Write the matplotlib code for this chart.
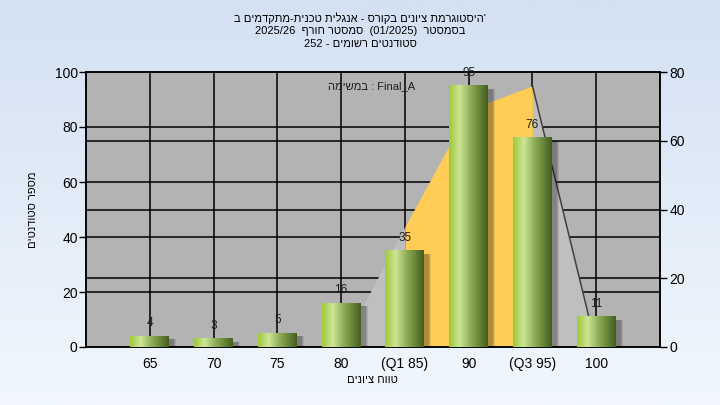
import re
import numpy as np
import matplotlib
matplotlib.use('Agg')
import matplotlib.pyplot as plt
from matplotlib.colors import LinearSegmentedColormap
from matplotlib.patches import Rectangle

plt.rcParams['font.family'] = ['Liberation Sans', 'DejaVu Sans']

# data
categories = ['65', '70', '75', '80', '(Q1 85)', '90', '(Q3 95)', '100']
counts = [4, 3, 5, 16, 35, 95, 76, 11]
# distribution shape drawn behind the bars (right axis), from category 80 to 100
area_pos = [3, 4, 5, 6, 7]
area_vals = [0, 35, 69, 76, 0]
q1_pos, q3_pos = 4, 6
left_ticks = [0, 20, 40, 60, 80, 100]
right_ticks = [0, 20, 40, 60, 80]

title_1 = 'היסטוגרמת ציונים בקורס - אנגלית טכנית-מתקדמים ב'
title_2 = 'בסמסטר  (01/2025)  סמסטר חורף  2025/26'
title_3 = 'סטודנטים רשומים - 252'
note = 'Final_A : במשימה'
xlab = 'טווח ציונים'
ylab = 'מספר סטודנטים'


def vis(s):
    # crude bidi: right-to-left display, latin/digit runs kept in order
    parts = re.split(r'([A-Za-z0-9_/().]+)', s)
    out = []
    for p in reversed(parts):
        if re.fullmatch(r'[A-Za-z0-9_/().]+', p):
            out.append(p)
        else:
            out.append(p[::-1])
    return ''.join(out)


fig = plt.figure(figsize=(7.2, 4.05), dpi=100)

# background gradient
bg = fig.add_axes([0, 0, 1, 1], zorder=-10)
grad = np.linspace(0, 1, 256).reshape(-1, 1)
bg_cmap = LinearSegmentedColormap.from_list('bg', ['#d3e1f3', '#f1f7fd'])
bg.imshow(grad, aspect='auto', cmap=bg_cmap, extent=(0, 1, 0, 1))
bg.axis('off')

rect = [86 / 720, 1 - 347 / 405, 574 / 720, 275 / 405]
ax2 = fig.add_axes(rect)
ax = ax2.twinx()
ax.yaxis.set_label_position('left')
ax.yaxis.tick_left()
ax2.yaxis.tick_right()
ax2.set_zorder(1)
ax.set_zorder(2)
ax.patch.set_visible(False)
ax2.set_facecolor('#b3b3b3')

x = np.arange(len(categories))
ax.set_xlim(-1, len(categories))
ax.set_ylim(0, 100)
ax2.set_ylim(0, 80)

# grid lines (behind the shaded distribution)
ax2.hlines(left_ticks[1:-1], 0, 1, transform=ax.get_yaxis_transform(), color='black', lw=1.1, zorder=1)
ax2.hlines(right_ticks[1:-1], 0, 1, transform=ax2.get_yaxis_transform(), color='black', lw=1.1, zorder=1)
ax2.vlines(x, 0, 1, transform=ax2.get_xaxis_transform(), color='black', lw=1.1, zorder=1)

# shaded distribution: grey outside Q1..Q3, yellow inside
ap = np.array(area_pos)
av = np.array(area_vals)
lo = ap <= q1_pos
mid = (ap >= q1_pos) & (ap <= q3_pos)
hi = ap >= q3_pos
ax2.fill_between(ap[lo], 0, av[lo], color='#bfbfbf', lw=0, zorder=2)
ax2.fill_between(ap[mid], 0, av[mid], color='#ffcc55', lw=0, zorder=2)
ax2.fill_between(ap[hi], 0, av[hi], color='#bfbfbf', lw=0, zorder=2)
ax2.plot(ap[hi], av[hi], color='#404040', lw=1.1, zorder=3)

# bars with cylinder-like gradient and drop shadow
bar_w = 0.61
bar_cmap = LinearSegmentedColormap.from_list(
    'bar', [(0, '#9cc93a'), (0.28, '#cde595'), (0.55, '#8fae57'), (1, '#435e1c')])
g = np.linspace(0, 1, 256).reshape(1, -1)
for i, v in enumerate(counts):
    for k, a in enumerate([0.09, 0.11, 0.14]):
        d = 0.05 - k * 0.015
        ax.add_patch(Rectangle((i - bar_w / 2 + 0.06 - d, -2.5 - d * 20), bar_w + 2 * d, v + 1.5 + d * 20,
                               facecolor='black', alpha=a, lw=0, zorder=3))
    ax.imshow(g, aspect='auto', cmap=bar_cmap, extent=(i - bar_w / 2, i + bar_w / 2, 0, v),
              zorder=4, interpolation='bilinear')
    ax.annotate(str(v), (i, v), xytext=(0, 9.5), textcoords='offset points',
                ha='center', va='center', fontsize=8.5, color='#1e1e1e', zorder=5)

ax.set_xlim(-1, len(categories))
ax.set_ylim(0, 100)
ax2.set_xticks(x)
ax2.set_xticklabels(categories)
ax.set_yticks(left_ticks)
ax2.set_yticks(right_ticks)
ax2.tick_params(axis='x', length=0, pad=7, labelsize=10)
ax.tick_params(axis='y', length=5, width=1, pad=1, labelsize=10)
ax2.tick_params(axis='y', length=5, width=1, pad=2, labelsize=10)
for a in (ax, ax2):
    for s in a.spines.values():
        s.set_color('black')
        s.set_linewidth(1.1)

# texts
fs = 8
fig.text(0.5, 1 - 18 / 405, vis(title_1) + "'", ha='center', va='center', fontsize=fs)
fig.text(0.5, 1 - 31 / 405, vis(title_2), ha='center', va='center', fontsize=fs)
fig.text(0.5, 1 - 44 / 405, vis(title_3), ha='center', va='center', fontsize=fs)
fig.text(372 / 720, 1 - 86 / 405, vis(note), ha='center', va='center', fontsize=fs, color='#1e1e1e')
fig.text(372 / 720, 1 - 380 / 405, vis(xlab), ha='center', va='center', fontsize=fs)
fig.text(33 / 720, 1 - 210 / 405, vis(ylab), ha='center', va='center', fontsize=fs, rotation=90)

fig.savefig('out.png', dpi=100)
